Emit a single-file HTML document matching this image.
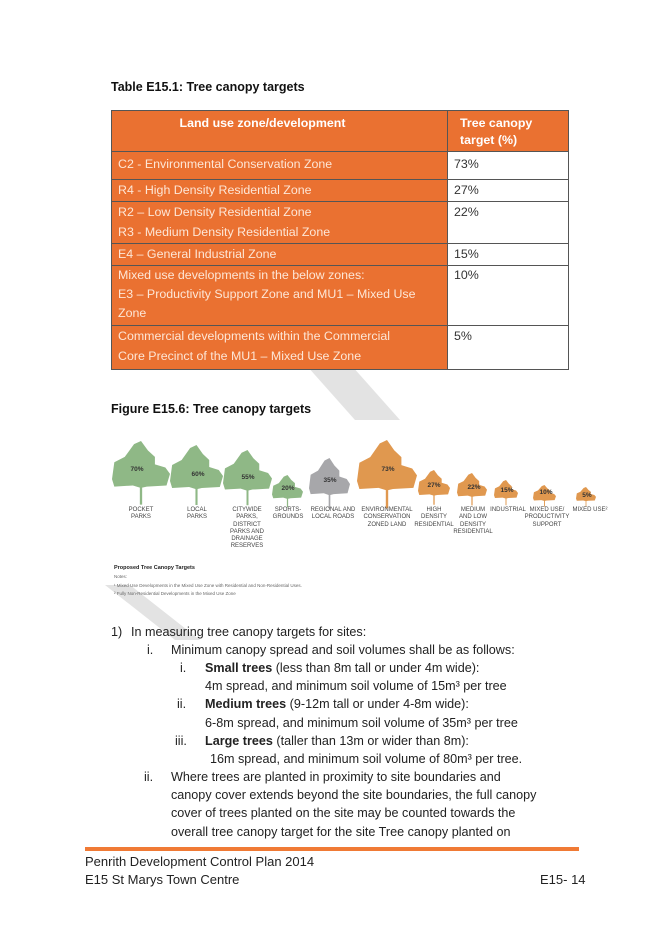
<!DOCTYPE html>
<html><head><meta charset="utf-8"><style>
body{margin:0;width:656px;height:928px;background:#fff;position:relative;overflow:hidden;font-family:"Liberation Sans",sans-serif;color:#222}
.a{position:absolute;white-space:nowrap}
.t{font-size:12.6px;line-height:18px}
table{position:absolute;left:111px;top:110px;border-collapse:collapse;width:457px;font-size:12.4px;table-layout:fixed}
td{border:1px solid #555;padding:0 6px;vertical-align:top;line-height:20px;box-sizing:border-box;white-space:nowrap;overflow:hidden}
td.o{background:#ea7131;color:#fde6d6}
td.w{background:#fff;color:#333}
th{background:#ea7131;color:#fff;border:1px solid #555;font-weight:bold;font-size:12.4px;line-height:17px;vertical-align:top;padding:4px 6px 0;white-space:nowrap}
.lab{position:absolute;font-size:6px;line-height:7.3px;text-align:center;color:#444;transform:translateX(-50%);white-space:nowrap}
</style></head><body>
<svg class="a" style="left:0;top:0" width="656" height="928">
<g fill="#e3e3e3">
<polygon points="275,330 320,330 400,420 355,420"/>
<polygon points="105,585 130,585 200,640 175,640"/>
</g>
</svg>
<div class="a" style="left:111px;top:80px;font-size:12.5px;font-weight:bold;color:#111">Table E15.1: Tree canopy targets</div>
<table>
<colgroup><col style="width:336px"><col style="width:121px"></colgroup>
<tr style="height:41px"><th style="text-align:center;padding-right:40px">Land use zone/development</th><th style="text-align:left;padding-left:12px">Tree canopy<br>target (%)</th></tr>
<tr style="height:28px"><td class="o" style="line-height:24px">C2 - Environmental Conservation Zone</td><td class="w" style="line-height:24px">73%</td></tr>
<tr style="height:22px"><td class="o" style="line-height:20px">R4 - High Density Residential Zone</td><td class="w" style="line-height:20px">27%</td></tr>
<tr style="height:42px"><td class="o">R2 – Low Density Residential Zone<br>R3 - Medium Density Residential Zone</td><td class="w">22%</td></tr>
<tr style="height:22px"><td class="o">E4 – General Industrial Zone</td><td class="w">15%</td></tr>
<tr style="height:60px"><td class="o" style="line-height:19px">Mixed use developments in the below zones:<br>E3 – Productivity Support Zone and MU1 – Mixed Use<br>Zone</td><td class="w" style="line-height:19px">10%</td></tr>
<tr style="height:44px"><td class="o" style="line-height:20px">Commercial developments within the Commercial<br>Core Precinct of the MU1 – Mixed Use Zone</td><td class="w" style="line-height:20px">5%</td></tr>
</table>
<div class="a" style="left:111px;top:402px;font-size:12.5px;font-weight:bold;color:#111">Figure E15.6: Tree canopy targets</div>
<svg class="a" style="left:0;top:0" width="656" height="928">
<defs><path id="lf" d="M0,72 L4,40 L22,30 L38,6 L50,0 L62,18 L74,30 L74,44 L92,50 L100,62 L94,84 L60,86 L52,88 L52,120 L48,120 L48,88 L36,84 L4,86 Z"/></defs>
<g font-family="Liberation Sans" font-weight="bold" font-size="6.5" fill="#333" text-anchor="middle">
<use href="#lf" fill="#8fb886" transform="translate(112,441) scale(0.58,0.53)"/><text x="137" y="471">70%</text>
<use href="#lf" fill="#8fb886" transform="translate(170,445) scale(0.53,0.5)"/><text x="198" y="476">60%</text>
<use href="#lf" fill="#8fb886" transform="translate(223,450) scale(0.49,0.46)"/><text x="248" y="479">55%</text>
<use href="#lf" fill="#8fb886" transform="translate(272,475) scale(0.31,0.27)"/><text x="288" y="490">20%</text>
<use href="#lf" fill="#a7a7aa" transform="translate(309,458) scale(0.41,0.42)"/><text x="330" y="482">35%</text>
<use href="#lf" fill="#e0984f" transform="translate(357,440) scale(0.6,0.57)"/><text x="388" y="471">73%</text>
<use href="#lf" fill="#e0984f" transform="translate(418,470) scale(0.32,0.29)"/><text x="434" y="487">27%</text>
<use href="#lf" fill="#e0984f" transform="translate(457,473) scale(0.3,0.27)"/><text x="474" y="489">22%</text>
<use href="#lf" fill="#e0984f" transform="translate(494,480) scale(0.24,0.21)"/><text x="507" y="492">15%</text>
<use href="#lf" fill="#e0984f" transform="translate(533,485) scale(0.23,0.18)"/><text x="546" y="494">10%</text>
<use href="#lf" fill="#e0984f" transform="translate(576,487) scale(0.2,0.16)"/><text x="587" y="497">5%</text>
</g>
</svg>
<div class="lab" style="left:141px;top:507px">POCKET<br>PARKS</div>
<div class="lab" style="left:197px;top:507px">LOCAL<br>PARKS</div>
<div class="lab" style="left:247px;top:507px">CITYWIDE<br>PARKS,<br>DISTRICT<br>PARKS AND<br>DRAINAGE<br>RESERVES</div>
<div class="lab" style="left:288px;top:507px">SPORTS-<br>GROUNDS</div>
<div class="lab" style="left:333px;top:507px">REGIONAL AND<br>LOCAL ROADS</div>
<div class="lab" style="left:387px;top:507px">ENVIRONMENTAL<br>CONSERVATION<br>ZONED LAND</div>
<div class="lab" style="left:434px;top:507px">HIGH<br>DENSITY<br>RESIDENTIAL</div>
<div class="lab" style="left:473px;top:507px">MEDIUM<br>AND LOW<br>DENSITY<br>RESIDENTIAL</div>
<div class="lab" style="left:508px;top:507px">INDUSTRIAL</div>
<div class="lab" style="left:547px;top:507px">MIXED USE/<br>PRODUCTIVITY<br>SUPPORT</div>
<div class="lab" style="left:590px;top:507px">MIXED USE²</div>
<div class="a" style="left:114px;top:565px;font-size:5.5px;font-weight:bold">Proposed Tree Canopy Targets</div>
<div class="a" style="left:114px;top:574px;font-size:4.5px;color:#666">Notes:</div>
<div class="a" style="left:114px;top:583px;font-size:4.5px;color:#666">¹ Mixed Use Developments in the Mixed Use Zone with Residential and Non-Residential Uses.</div>
<div class="a" style="left:114px;top:591px;font-size:4.5px;color:#666">² Fully Non-Residential Developments in the Mixed Use Zone</div>
<div class="a t" style="left:111px;top:623px">1)</div><div class="a t" style="left:131px;top:623px">In measuring tree canopy targets for sites:</div>
<div class="a t" style="left:147px;top:641px">i.</div><div class="a t" style="left:171px;top:641px">Minimum canopy spread and soil volumes shall be as follows:</div>
<div class="a t" style="left:180px;top:659px">i.</div><div class="a t" style="left:205px;top:659px"><b>Small trees</b> (less than 8m tall or under 4m wide):</div>
<div class="a t" style="left:205px;top:677px">4m spread, and minimum soil volume of 15m³ per tree</div>
<div class="a t" style="left:177px;top:695px">ii.</div><div class="a t" style="left:205px;top:695px"><b>Medium trees</b> (9-12m tall or under 4-8m wide):</div>
<div class="a t" style="left:205px;top:714px">6-8m spread, and minimum soil volume of 35m³ per tree</div>
<div class="a t" style="left:175px;top:732px">iii.</div><div class="a t" style="left:205px;top:732px"><b>Large trees</b> (taller than 13m or wider than 8m):</div>
<div class="a t" style="left:210px;top:750px">16m spread, and minimum soil volume of 80m³ per tree.</div>
<div class="a t" style="left:144px;top:768px">ii.</div><div class="a t" style="left:171px;top:768px">Where trees are planted in proximity to site boundaries and</div>
<div class="a t" style="left:171px;top:786px">canopy cover extends beyond the site boundaries, the full canopy</div>
<div class="a t" style="left:171px;top:804px">cover of trees planted on the site may be counted towards the</div>
<div class="a t" style="left:171px;top:823px">overall tree canopy target for the site Tree canopy planted on</div>
<div class="a" style="left:85px;top:847px;width:494px;height:4px;background:#f07a35"></div>
<div class="a t" style="left:85px;top:853px;font-size:13px">Penrith Development Control Plan 2014</div>
<div class="a t" style="left:85px;top:871px;font-size:13px">E15 St Marys Town Centre</div>
<div class="a t" style="left:540px;top:871px;font-size:13px">E15- 14</div>
</body></html>
